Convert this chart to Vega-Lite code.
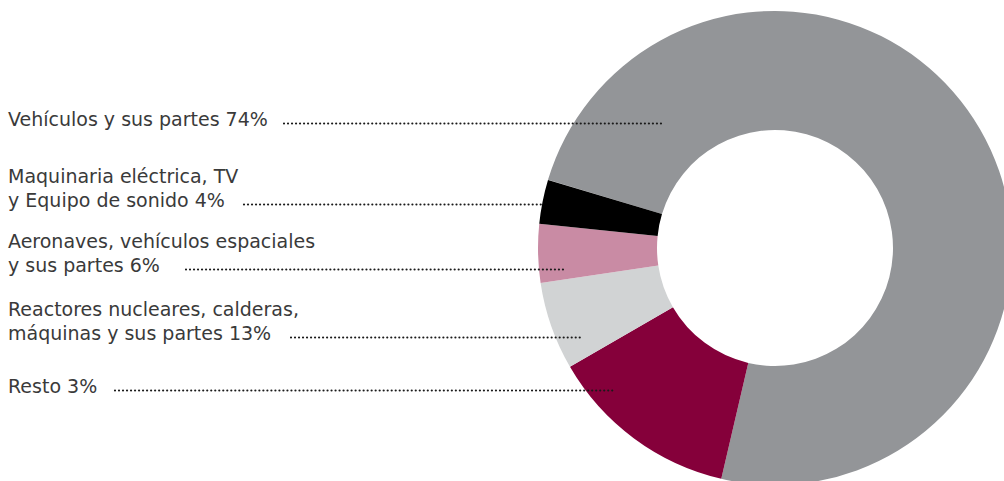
{
  "$schema": "https://vega.github.io/schema/vega-lite/v6.json",
  "width": 1004,
  "height": 481,
  "autosize": {"type": "none"},
  "padding": 0,
  "background": "white",
  "config": {"view": {"stroke": null}},
  "data": {
    "values": [
      {"category": "Vehículos y sus partes", "label": "Vehículos y sus partes 74%", "value": 74, "rank": 1},
      {"category": "Reactores nucleares, calderas, máquinas y sus partes", "label": "Reactores nucleares, calderas,\nmáquinas y sus partes 13%", "value": 13, "rank": 2},
      {"category": "Aeronaves, vehículos espaciales y sus partes", "label": "Aeronaves, vehículos espaciales\ny sus partes 6%", "value": 6, "rank": 3},
      {"category": "Maquinaria eléctrica, TV y Equipo de sonido", "label": "Maquinaria eléctrica, TV\ny Equipo de sonido 4%", "value": 4, "rank": 4},
      {"category": "Resto", "label": "Resto 3%", "value": 3, "rank": 5}
    ]
  },
  "encoding": {
    "x": {"type": "quantitative", "scale": {"domain": [0, 1004], "nice": false, "zero": false}, "axis": null},
    "y": {"type": "quantitative", "scale": {"domain": [0, 481], "nice": false, "zero": false, "reverse": true}, "axis": null}
  },
  "layer": [
    {
      "mark": {"type": "arc", "innerRadius": 118, "outerRadius": 237},
      "encoding": {
        "x": {"datum": 775, "type": "quantitative"},
        "y": {"datum": 248, "type": "quantitative"},
        "theta": {"field": "value", "type": "quantitative", "stack": true, "scale": {"range": [5.004, 11.287]}},
        "order": {"field": "rank", "type": "quantitative", "sort": "ascending"},
        "color": {
          "field": "category",
          "type": "nominal",
          "legend": null,
          "scale": {
            "domain": ["Vehículos y sus partes", "Reactores nucleares, calderas, máquinas y sus partes", "Aeronaves, vehículos espaciales y sus partes", "Maquinaria eléctrica, TV y Equipo de sonido", "Resto"],
            "range": ["#939598", "#85003a", "#d1d3d4", "#c98ba4", "#000000"]
          }
        }
      }
    },
    {
      "transform": [{"filter": "datum.rank == 1"}],
      "layer": [
        {"mark": {"type": "text", "align": "left", "baseline": "alphabetic", "font": "DejaVu Sans", "fontSize": 19, "color": "#3a3a3a", "lineBreak": "\n", "lineHeight": 24},
         "encoding": {"text": {"field": "label"}, "x": {"datum": 8}, "y": {"datum": 125.5}}},
        {"mark": {"type": "rule", "color": "#1a1a1a", "strokeWidth": 2.2, "strokeCap": "round", "strokeDash": [0.01, 4]},
         "encoding": {"x": {"datum": 284}, "x2": {"datum": 662}, "y": {"datum": 123.5}}}
      ]
    },
    {
      "transform": [{"filter": "datum.rank == 4"}],
      "layer": [
        {"mark": {"type": "text", "align": "left", "baseline": "alphabetic", "font": "DejaVu Sans", "fontSize": 19, "color": "#3a3a3a", "lineBreak": "\n", "lineHeight": 24},
         "encoding": {"text": {"field": "label"}, "x": {"datum": 8}, "y": {"datum": 183}}},
        {"mark": {"type": "rule", "color": "#1a1a1a", "strokeWidth": 2.2, "strokeCap": "round", "strokeDash": [0.01, 4]},
         "encoding": {"x": {"datum": 244}, "x2": {"datum": 542}, "y": {"datum": 204.5}}}
      ]
    },
    {
      "transform": [{"filter": "datum.rank == 3"}],
      "layer": [
        {"mark": {"type": "text", "align": "left", "baseline": "alphabetic", "font": "DejaVu Sans", "fontSize": 19, "color": "#3a3a3a", "lineBreak": "\n", "lineHeight": 24},
         "encoding": {"text": {"field": "label"}, "x": {"datum": 8}, "y": {"datum": 248}}},
        {"mark": {"type": "rule", "color": "#1a1a1a", "strokeWidth": 2.2, "strokeCap": "round", "strokeDash": [0.01, 4]},
         "encoding": {"x": {"datum": 186}, "x2": {"datum": 563}, "y": {"datum": 269.5}}}
      ]
    },
    {
      "transform": [{"filter": "datum.rank == 2"}],
      "layer": [
        {"mark": {"type": "text", "align": "left", "baseline": "alphabetic", "font": "DejaVu Sans", "fontSize": 19, "color": "#3a3a3a", "lineBreak": "\n", "lineHeight": 24},
         "encoding": {"text": {"field": "label"}, "x": {"datum": 8}, "y": {"datum": 316}}},
        {"mark": {"type": "rule", "color": "#1a1a1a", "strokeWidth": 2.2, "strokeCap": "round", "strokeDash": [0.01, 4]},
         "encoding": {"x": {"datum": 291}, "x2": {"datum": 583}, "y": {"datum": 337.5}}}
      ]
    },
    {
      "transform": [{"filter": "datum.rank == 5"}],
      "layer": [
        {"mark": {"type": "text", "align": "left", "baseline": "alphabetic", "font": "DejaVu Sans", "fontSize": 19, "color": "#3a3a3a", "lineBreak": "\n", "lineHeight": 24},
         "encoding": {"text": {"field": "label"}, "x": {"datum": 8}, "y": {"datum": 392.5}}},
        {"mark": {"type": "rule", "color": "#1a1a1a", "strokeWidth": 2.2, "strokeCap": "round", "strokeDash": [0.01, 4]},
         "encoding": {"x": {"datum": 115}, "x2": {"datum": 614}, "y": {"datum": 390.5}}}
      ]
    }
  ]
}
